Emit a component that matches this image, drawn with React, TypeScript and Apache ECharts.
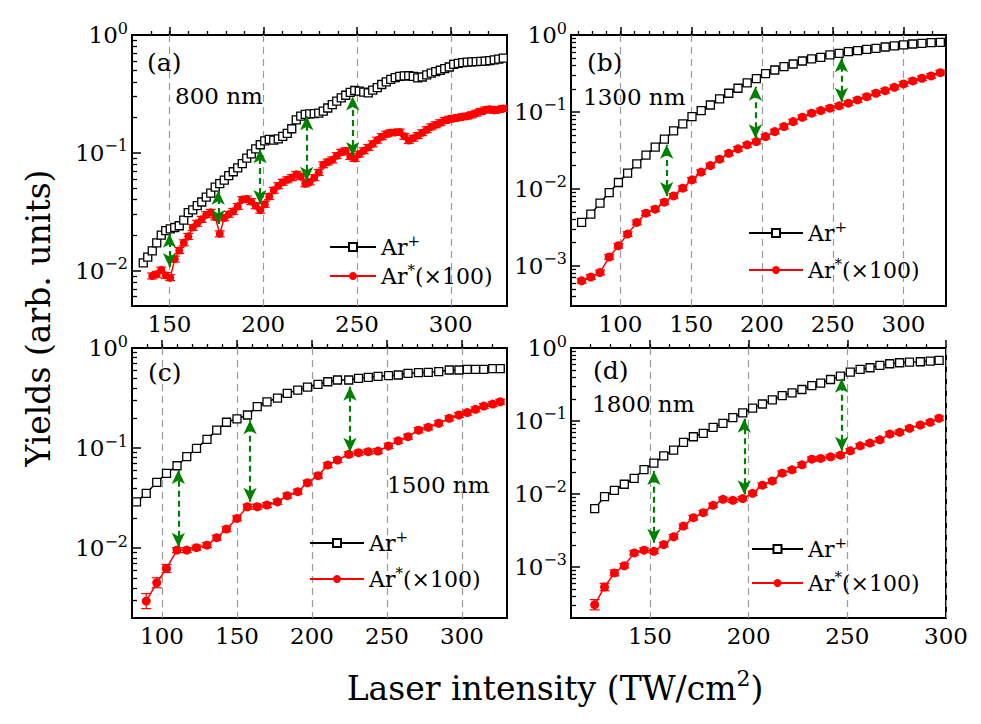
import React, { useEffect, useRef } from 'react';
import * as echarts from 'echarts';

const FONT = "'DejaVu Serif', 'Liberation Serif', serif";

// ---------------- (a) 800 nm ----------------
const xA = [136, 138.4, 140.8, 143.2, 145.6, 148, 150.4, 152.8, 155.2, 157.6, 160, 162.4, 164.8, 167.2, 169.6, 172, 174.4, 176.8, 179.2, 181.6, 184, 186.4, 188.8, 191.2, 193.6, 196, 198.4, 200.8, 203.2, 205.6, 208, 210.4, 212.8, 215.2, 217.6, 220, 222.4, 224.8, 227.2, 229.6, 232, 234.4, 236.8, 239.2, 241.6, 244, 246.4, 248.8, 251.2, 253.6, 256, 258.4, 260.8, 263.2, 265.6, 268, 270.4, 272.8, 275.2, 277.6, 280, 282.4, 284.8, 287.2, 289.6, 292, 294.4, 296.8, 299.2, 301.6, 304, 306.4, 308.8, 311.2, 313.6, 316, 318.4, 320.8, 323.2, 325.6, 328];
const ionA = [0.0116, 0.013, 0.0147, 0.0172, 0.02, 0.0218, 0.0226, 0.0232, 0.024, 0.0268, 0.031, 0.0328, 0.0356, 0.0382, 0.042, 0.0455, 0.051, 0.0548, 0.0585, 0.064, 0.069, 0.0745, 0.081, 0.09, 0.098, 0.108, 0.117, 0.126, 0.13, 0.128, 0.131, 0.138, 0.146, 0.16, 0.19, 0.205, 0.212, 0.214, 0.215, 0.217, 0.226, 0.24, 0.256, 0.274, 0.292, 0.308, 0.326, 0.338, 0.334, 0.327, 0.322, 0.34, 0.358, 0.38, 0.4, 0.42, 0.435, 0.445, 0.45, 0.451, 0.445, 0.432, 0.44, 0.458, 0.475, 0.488, 0.502, 0.518, 0.535, 0.562, 0.575, 0.582, 0.588, 0.591, 0.594, 0.596, 0.6, 0.606, 0.616, 0.625, 0.636];
const xExcA = xA.slice(2);
const excA = [0.009, 0.0093, 0.0101, 0.0091, 0.0087, 0.0125, 0.0148, 0.0172, 0.0195, 0.0232, 0.0252, 0.0272, 0.0298, 0.0312, 0.0285, 0.0205, 0.028, 0.03, 0.0318, 0.035, 0.04, 0.0405, 0.0385, 0.0355, 0.0325, 0.0365, 0.0425, 0.048, 0.0525, 0.0562, 0.059, 0.0615, 0.0655, 0.063, 0.0545, 0.0565, 0.0615, 0.068, 0.079, 0.0835, 0.087, 0.0945, 0.101, 0.104, 0.093, 0.0895, 0.0975, 0.104, 0.111, 0.119, 0.128, 0.137, 0.144, 0.148, 0.149, 0.15, 0.138, 0.127, 0.133, 0.14, 0.148, 0.157, 0.166, 0.173, 0.18, 0.188, 0.193, 0.196, 0.199, 0.202, 0.205, 0.21, 0.217, 0.224, 0.231, 0.234, 0.229, 0.233, 0.238];
const errHeadA: number[] = [];
const errDefA = 0.025; // half-width in decades
const arrowsA = [[150, 0.0107, 0.0205], [176, 0.0249, 0.0476], [198.3, 0.0367, 0.107], [223.2, 0.0578, 0.2045], [247.7, 0.094, 0.3]];

// ---------------- (b) 1300 nm ----------------
const xB = [72.5, 79, 85.5, 92, 98.5, 105, 111.5, 118, 124.5, 131, 137.5, 144, 150.5, 157, 163.5, 170, 176.5, 183, 189.5, 196, 202.5, 209, 215.5, 222, 228.5, 235, 241.5, 248, 254.5, 261, 267.5, 274, 280.5, 287, 293.5, 300, 306.5, 313, 319.5, 326];
const ionB = [0.00366, 0.00469, 0.00652, 0.00895, 0.0121, 0.016, 0.0211, 0.0274, 0.0348, 0.0442, 0.0566, 0.0698, 0.0869, 0.104, 0.123, 0.148, 0.175, 0.203, 0.238, 0.271, 0.315, 0.351, 0.388, 0.42, 0.459, 0.488, 0.513, 0.55, 0.578, 0.608, 0.626, 0.652, 0.671, 0.698, 0.72, 0.742, 0.764, 0.78, 0.795, 0.804];
const excB = [0.000638, 0.000713, 0.000818, 0.0013, 0.00182, 0.00258, 0.00366, 0.00483, 0.00545, 0.00672, 0.0081, 0.0102, 0.0131, 0.0165, 0.0201, 0.0243, 0.029, 0.0331, 0.0373, 0.0412, 0.0478, 0.0556, 0.0645, 0.0749, 0.0853, 0.0962, 0.104, 0.112, 0.12, 0.13, 0.143, 0.158, 0.175, 0.189, 0.209, 0.231, 0.253, 0.274, 0.294, 0.324];
const errHeadB: number[] = [];
const errDefB = 0.03;
const arrowsB = [[132.6, 0.0081, 0.0373], [195.3, 0.0455, 0.213], [256.1, 0.136, 0.498]];

// ---------------- (c) 1500 nm ----------------
const xC = [83, 89.5, 96.5, 103, 110, 116.5, 123, 130, 136.5, 143, 150, 157, 163.5, 170, 177, 183.5, 190.5, 197, 204, 210.5, 217, 224.5, 231, 237.5, 244, 251, 257.5, 264, 271, 277.5, 284.5, 291.5, 298, 303.5, 309, 314.5, 320.5, 325.5];
const ionC = [0.029, 0.0352, 0.0454, 0.0558, 0.0665, 0.0819, 0.0993, 0.122, 0.151, 0.181, 0.196, 0.214, 0.259, 0.29, 0.316, 0.352, 0.38, 0.407, 0.433, 0.46, 0.479, 0.479, 0.497, 0.509, 0.521, 0.529, 0.537, 0.558, 0.567, 0.571, 0.58, 0.603, 0.603, 0.612, 0.612, 0.612, 0.621, 0.621];
const xExcC = xC.slice(1);
const excC = [0.00295, 0.0045, 0.00626, 0.00955, 0.00955, 0.0101, 0.0107, 0.0127, 0.0155, 0.0198, 0.0259, 0.0259, 0.0269, 0.029, 0.0334, 0.0366, 0.045, 0.0529, 0.0676, 0.0759, 0.0865, 0.0898, 0.0919, 0.0933, 0.105, 0.118, 0.13, 0.151, 0.161, 0.177, 0.198, 0.214, 0.226, 0.244, 0.263, 0.275, 0.29];
const errHeadC = [0.075, 0.05, 0.04];
const errDefC = 0.025;
const arrowsC = [[110.9, 0.0103, 0.0603], [158.7, 0.029, 0.19], [225.3, 0.092, 0.41]];

// ---------------- (d) 1800 nm ----------------
const xD = [122, 127, 132, 137, 142, 147, 152, 157, 162, 167, 172, 177, 182, 187, 192, 197, 202, 207, 212, 217, 222, 227, 232, 236.5, 241.5, 246.5, 251.5, 256.5, 261.5, 266.5, 271.5, 276.5, 281.5, 287, 292, 296.5];
const ionD = [0.0063, 0.0092, 0.0112, 0.0136, 0.0164, 0.0216, 0.0264, 0.0333, 0.0399, 0.0509, 0.0608, 0.0678, 0.0819, 0.0929, 0.111, 0.129, 0.15, 0.171, 0.195, 0.223, 0.243, 0.27, 0.306, 0.33, 0.37, 0.412, 0.468, 0.508, 0.536, 0.577, 0.608, 0.628, 0.641, 0.648, 0.662, 0.676];
const excD = [0.000304, 0.000532, 0.00083, 0.00104, 0.00156, 0.0017, 0.00164, 0.00203, 0.00259, 0.00363, 0.00473, 0.00554, 0.007, 0.00845, 0.00819, 0.00865, 0.0102, 0.0132, 0.0151, 0.0193, 0.0214, 0.0251, 0.03, 0.0307, 0.0323, 0.034, 0.039, 0.0457, 0.0498, 0.0553, 0.0662, 0.07, 0.0794, 0.0881, 0.096, 0.109];
const errHeadD = [0.07, 0.05, 0.04];
const errDefD = 0.03;
const arrowsD = [[152, 0.00215, 0.0207], [197.8, 0.0099, 0.107], [247.1, 0.039, 0.378]];

// tick values
const xTickValues = [100, 150, 200, 250, 300];
const yDecadeValues = [-3, -2, -1, 0];
const panelLetters = ['(a)', '(b)', '(c)', '(d)'];
const wavelengths = ['800 nm', '1300 nm', '1500 nm', '1800 nm'];
const xRanges = [[130, 330], [65, 330], [80, 330], [110, 300]];
const yMins = [0.005, 0.0003, 0.002, 0.0002];

const DATA = [
  { xIon: xA, ion: ionA, xExc: xExcA, exc: excA, errHead: errHeadA, errDef: errDefA, arrows: arrowsA },
  { xIon: xB, ion: ionB, xExc: xB, exc: excB, errHead: errHeadB, errDef: errDefB, arrows: arrowsB },
  { xIon: xC, ion: ionC, xExc: xExcC, exc: excC, errHead: errHeadC, errDef: errDefC, arrows: arrowsC },
  { xIon: xD, ion: ionD, xExc: xD, exc: excD, errHead: errHeadD, errDef: errDefD, arrows: arrowsD },
];

// layout (positions / styles)
const LAYOUT = [
  { left: 132, top: 35, width: 375, height: 271, sq: 8, dot: 8, leg: { left: 329, top: 233, w: 46, gap: 4 }, letter: [147, 62], wl: [175, 96] },
  { left: 571, top: 35, width: 375, height: 271, sq: 8, dot: 9, leg: { left: 748, top: 219, w: 54, gap: 12 }, letter: [587, 62], wl: [583, 97] },
  { left: 132, top: 348, width: 375, height: 270, sq: 8, dot: 9, leg: { left: 309, top: 529, w: 54, gap: 11 }, letter: [148, 372], wl: [387, 485] },
  { left: 571, top: 348, width: 375, height: 270, sq: 8, dot: 9, leg: { left: 751, top: 535, w: 51, gap: 9 }, letter: [593, 370], wl: [592, 404] },
];

function minorLogs(lmin: number) {
  const out: number[] = [];
  for (let n = Math.floor(lmin); n < 0; n++) {
    for (let k = 2; k <= 9; k++) {
      const v = n + Math.log10(k);
      if (v > lmin && v < 0) out.push(v);
    }
  }
  return out;
}

function buildOption() {
  const grid: any[] = [];
  const xAxis: any[] = [];
  const yAxis: any[] = [];
  const series: any[] = [];
  const legend: any[] = [];
  const graphic: any[] = [];

  const tickLine = { color: '#000', width: 1.5 };

  DATA.forEach((d, g) => {
    const L = LAYOUT[g];
    const [xMin, xMax] = xRanges[g];
    const yMin = yMins[g];
    const lmin = Math.log10(yMin);

    grid.push({ left: L.left, top: L.top, width: L.width, height: L.height, show: true, borderColor: '#000', borderWidth: 2, backgroundColor: 'transparent', containLabel: false });

    const xMajors = xTickValues.filter((v) => v > xMin && v <= xMax);
    const xMinors: number[] = [];
    for (let v = Math.ceil(xMin / 10) * 10; v < xMax; v += 10) if (v > xMin) xMinors.push(v);

    xAxis.push({
      type: 'value', gridIndex: g, min: xMin, max: xMax, position: 'bottom', offset: 0,
      axisLine: { show: false },
      axisTick: { show: true, inside: true, length: 8, customValues: xMajors, lineStyle: tickLine },
      axisLabel: { show: true, customValues: xMajors, margin: 6, color: '#000', fontFamily: FONT, fontSize: 23 },
      splitLine: { show: true, lineStyle: { color: '#9a9a9a', width: 1.2, type: [7, 5] } },
    });
    xAxis.push({
      type: 'value', gridIndex: g, min: xMin, max: xMax, position: 'bottom', offset: 0,
      axisLine: { show: false },
      axisTick: { show: true, inside: true, length: 4, customValues: xMinors, lineStyle: { color: '#000', width: 1.3 } },
      axisLabel: { show: false },
      splitLine: { show: false },
    });

    yAxis.push({
      type: 'log', logBase: 10, gridIndex: g, min: yMin, max: 1, position: 'left', offset: 0,
      axisLine: { show: false }, axisTick: { show: false }, axisLabel: { show: false },
      splitLine: { show: false }, minorTick: { show: false }, minorSplitLine: { show: false },
    });
    const yMajors = yDecadeValues.filter((v) => v >= lmin - 1e-9);
    yAxis.push({
      type: 'value', gridIndex: g, min: lmin, max: 0, position: 'left', offset: 0,
      axisLine: { show: false },
      axisTick: { show: true, inside: true, length: 9, customValues: yMajors, lineStyle: tickLine },
      axisLabel: {
        show: true, customValues: yMajors, margin: 4, color: '#000',
        formatter: (v: number) => {
          const n = Math.round(v);
          return `{b|10}{s|${n === 0 ? '0' : '\u2212' + (-n)}}`;
        },
        rich: {
          b: { fontFamily: FONT, fontSize: 23, lineHeight: 30, color: '#000' },
          s: { fontFamily: FONT, fontSize: 16, lineHeight: 16, verticalAlign: 'top', color: '#000' },
        },
      },
      splitLine: { show: false },
    });
    yAxis.push({
      type: 'value', gridIndex: g, min: lmin, max: 0, position: 'left', offset: 0,
      axisLine: { show: false },
      axisTick: { show: true, inside: true, length: 5, customValues: minorLogs(lmin), lineStyle: { color: '#000', width: 1.3 } },
      axisLabel: { show: false },
      splitLine: { show: false },
    });

    const xi = 2 * g;
    const yi = 3 * g;

    series.push({
      type: 'line', name: 'Ar+', xAxisIndex: xi, yAxisIndex: yi, silent: true, z: 2,
      data: d.xIon.map((x, i) => [x, d.ion[i]]),
      symbol: 'rect', symbolSize: L.sq,
      lineStyle: { color: '#000', width: 1.5 },
      itemStyle: { color: '#fff', borderColor: '#000', borderWidth: 1.3 },
    });

    series.push({
      type: 'custom', name: 'err' + g, xAxisIndex: xi, yAxisIndex: yi, silent: true, z: 3,
      data: d.xExc.map((x, i) => {
        const e = d.errHead[i] !== undefined ? d.errHead[i] : d.errDef;
        return [x, d.exc[i] * Math.pow(10, -e), d.exc[i] * Math.pow(10, e)];
      }),
      encode: { x: 0, y: [1, 2] },
      renderItem: (params: any, api: any) => {
        const x = api.value(0);
        const p1 = api.coord([x, api.value(1)]);
        const p2 = api.coord([x, api.value(2)]);
        const w = 5;
        const st = { stroke: '#ff0000', lineWidth: 1.2 };
        return {
          type: 'group',
          children: [
            { type: 'line', shape: { x1: p1[0], y1: p1[1], x2: p2[0], y2: p2[1] }, style: st },
            { type: 'line', shape: { x1: p1[0] - w, y1: p1[1], x2: p1[0] + w, y2: p1[1] }, style: st },
            { type: 'line', shape: { x1: p2[0] - w, y1: p2[1], x2: p2[0] + w, y2: p2[1] }, style: st },
          ],
        };
      },
    });

    series.push({
      type: 'line', name: 'Ar*', xAxisIndex: xi, yAxisIndex: yi, silent: true, z: 4,
      data: d.xExc.map((x, i) => [x, d.exc[i]]),
      symbol: 'circle', symbolSize: L.dot,
      lineStyle: { color: '#ff0000', width: 1.5 },
      itemStyle: { color: '#ff0000' },
      markLine: {
        silent: true,
        symbol: ['arrow', 'arrow'],
        symbolSize: [10, 14],
        label: { show: false },
        emphasis: { disabled: true },
        lineStyle: { color: '#008000', width: 2.2, type: [6, 4] },
        data: d.arrows.map((a) => [{ coord: [a[0], a[1]] }, { coord: [a[0], a[2]] }]),
      },
    });

    legend.push({
      data: ['Ar+', 'Ar*'],
      orient: 'vertical',
      left: L.leg.left, top: L.leg.top,
      itemWidth: L.leg.w, itemHeight: 10, itemGap: L.leg.gap,
      selectedMode: false,
      padding: 0,
      formatter: (name: string) => (name === 'Ar+' ? '{b|Ar}{s|+}' : '{b|Ar}{s|*}{b|(\u00d7100)}'),
      textStyle: {
        color: '#000', fontFamily: FONT, fontSize: 22,
        rich: {
          b: { fontFamily: FONT, fontSize: 22, lineHeight: 28, color: '#000' },
          s: { fontFamily: FONT, fontSize: 15, lineHeight: 14, verticalAlign: 'top', color: '#000' },
        },
      },
    });

    graphic.push({
      type: 'text', x: L.letter[0], y: L.letter[1], silent: true,
      style: { text: panelLetters[g], fontFamily: FONT, fontSize: 25, fill: '#000', align: 'left', verticalAlign: 'middle' },
    });
    graphic.push({
      type: 'text', x: L.wl[0], y: L.wl[1], silent: true,
      style: { text: wavelengths[g], fontFamily: FONT, fontSize: 23, fill: '#000', align: 'left', verticalAlign: 'middle' },
    });
  });

  graphic.push({
    type: 'text', x: 38, y: 318, rotation: Math.PI / 2, silent: true,
    style: { text: 'Yields (arb. units)', fontFamily: FONT, fontSize: 33, fill: '#000', align: 'center', verticalAlign: 'middle' },
  });
  graphic.push({
    type: 'text', x: 555, y: 688, silent: true,
    style: {
      text: '{b|Laser intensity (TW/cm}{s|2}{b|)}',
      align: 'center', verticalAlign: 'middle',
      rich: {
        b: { fontFamily: FONT, fontSize: 33, lineHeight: 42, fill: '#000' },
        s: { fontFamily: FONT, fontSize: 22, lineHeight: 22, verticalAlign: 'top', fill: '#000' },
      },
    },
  });

  return { animation: false, backgroundColor: '#fff', grid, xAxis, yAxis, series, legend, graphic };
}

export default function App() {
  const ref = useRef<HTMLDivElement>(null);
  useEffect(() => {
    if (!ref.current) return;
    const chart = echarts.init(ref.current, null, { renderer: 'svg' });
    chart.setOption(buildOption() as any);
    return () => chart.dispose();
  }, []);
  return <div ref={ref} style={{ position: 'fixed', left: 0, top: 0, width: 981, height: 724 }} />;
}
